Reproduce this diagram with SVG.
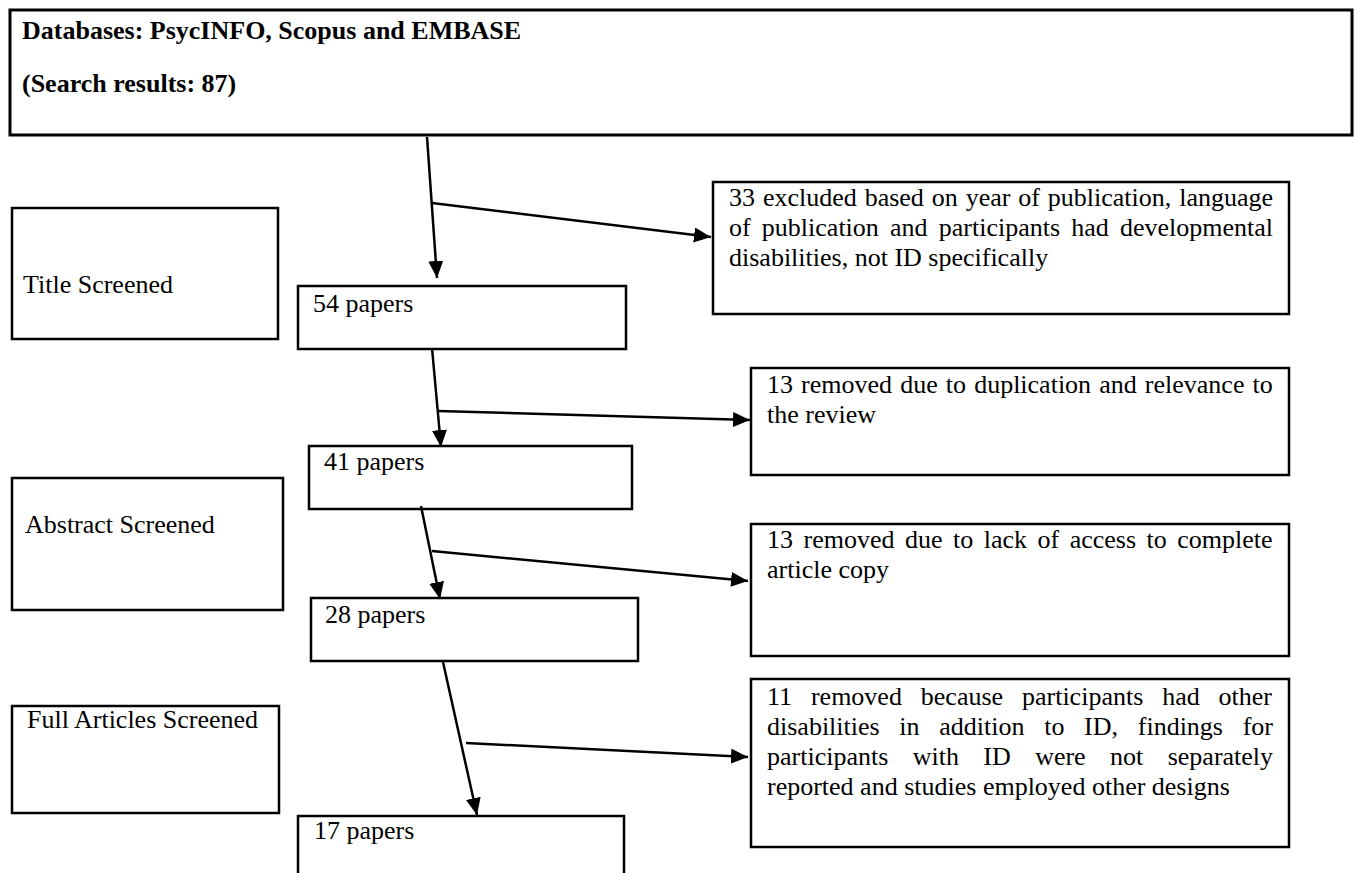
<svg xmlns="http://www.w3.org/2000/svg" width="1362" height="873" viewBox="0 0 1362 873">
<style>
.box{fill:#fff;stroke:#000;stroke-width:2.5}
.top{fill:#fff;stroke:#000;stroke-width:3}
.t{font-family:"Liberation Serif","Times New Roman",serif;font-size:26px;fill:#000}
.b{font-weight:bold}
.c{stroke:#000;stroke-width:2.5;fill:none;marker-end:url(#ah)}
</style>
<defs>
<marker id="ah" markerUnits="userSpaceOnUse" markerWidth="18" markerHeight="16" refX="17" refY="7.5" orient="auto">
<path d="M0,0 L17,7.5 L0,15 z" fill="#000"/>
</marker>
</defs>
<rect width="1362" height="873" fill="#fff"/>
<g id="databases">
<rect class="top" x="10" y="10" width="1342" height="125"/>
<text class="t b" x="22" y="39">Databases: PsycINFO, Scopus and EMBASE</text>
<text class="t b" x="22" y="92">(Search results: 87)</text>
</g>
<g id="title-screened">
<rect class="box" x="12" y="208" width="266" height="131"/>
<text class="t" x="23" y="293">Title Screened</text>
</g>
<g id="abstract-screened">
<rect class="box" x="12" y="478" width="271" height="132"/>
<text class="t" x="25" y="533">Abstract Screened</text>
</g>
<g id="full-articles-screened">
<rect class="box" x="12" y="706" width="267" height="107"/>
<text class="t" x="27" y="728">Full Articles Screened</text>
</g>
<g id="p54">
<rect class="box" x="298" y="286" width="328" height="63"/>
<text class="t" x="313" y="312">54 papers</text>
</g>
<g id="p41">
<rect class="box" x="309" y="446" width="323" height="63"/>
<text class="t" x="324" y="470">41 papers</text>
</g>
<g id="p28">
<rect class="box" x="311" y="598" width="327" height="63"/>
<text class="t" x="325" y="623">28 papers</text>
</g>
<g id="p17">
<rect class="box" x="298" y="816" width="326" height="80"/>
<text class="t" x="314" y="839">17 papers</text>
</g>
<g id="excl33">
<rect class="box" x="713" y="182" width="576" height="132"/>
<text class="t" x="729" y="206" word-spacing="1.4">33 excluded based on year of publication, language</text>
<text class="t" x="729" y="236" word-spacing="4.7">of publication and participants had developmental</text>
<text class="t" x="729" y="266">disabilities, not ID specifically</text>
</g>
<g id="rem13dup">
<rect class="box" x="751" y="368" width="538" height="107"/>
<text class="t" x="767" y="393" word-spacing="1.6">13 removed due to duplication and relevance to</text>
<text class="t" x="767" y="423">the review</text>
</g>
<g id="rem13access">
<rect class="box" x="751" y="524" width="538" height="132"/>
<text class="t" x="767" y="548" word-spacing="4">13 removed due to lack of access to complete</text>
<text class="t" x="767" y="578">article copy</text>
</g>
<g id="rem11">
<rect class="box" x="751" y="679" width="538" height="168"/>
<text class="t" x="767" y="705" word-spacing="12.4">11 removed because participants had other</text>
<text class="t" x="767" y="735" word-spacing="13.2">disabilities in addition to ID, findings for</text>
<text class="t" x="767" y="765" word-spacing="17.9">participants with ID were not separately</text>
<text class="t" x="767" y="795">reported and studies employed other designs</text>
</g>
<g id="connectors">
<line class="c" x1="427" y1="137" x2="437" y2="278"/>
<line class="c" x1="432" y1="203" x2="711" y2="237"/>
<line class="c" x1="432" y1="348" x2="441" y2="447"/>
<line class="c" x1="438" y1="411" x2="750" y2="420"/>
<line class="c" x1="421" y1="506" x2="440" y2="599"/>
<line class="c" x1="432" y1="551" x2="748" y2="581"/>
<line class="c" x1="443" y1="662" x2="477" y2="815"/>
<line class="c" x1="466" y1="743" x2="748" y2="757"/>
</g>
</svg>
